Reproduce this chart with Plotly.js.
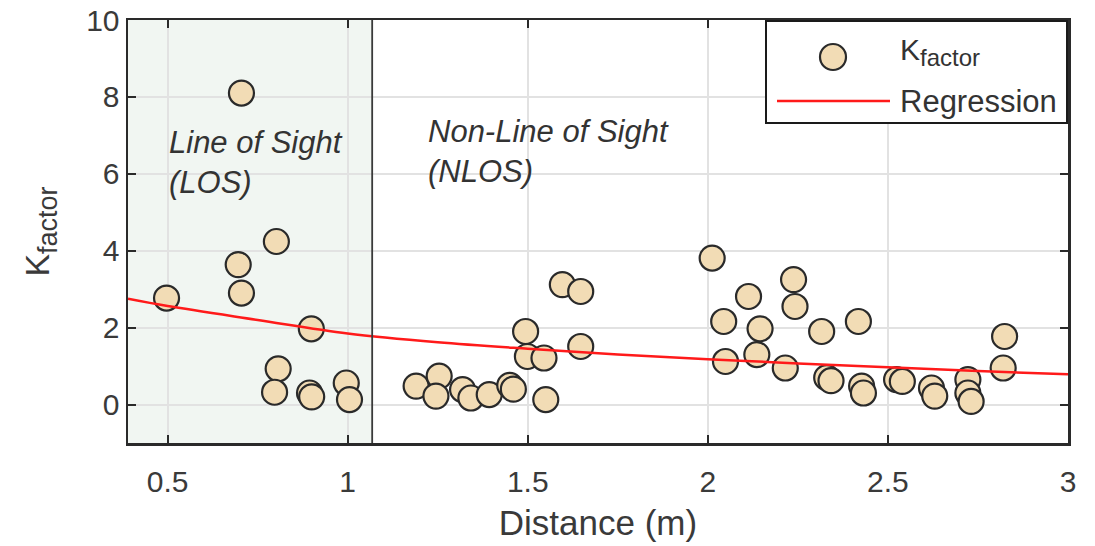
<!DOCTYPE html>
<html>
<head>
<meta charset="utf-8">
<script src="https://cdn.plot.ly/plotly-3.0.1.min.js"></script>
<style>html,body{margin:0;padding:0;background:#fff;}#chart{width:1095px;height:546px;}</style>
</head>
<body>
<div id="chart"></div>
<script>
// K-factor measurements (distance in m)
const distance = [0.497, 0.705, 0.696, 0.705, 0.802, 0.899, 0.807, 0.797, 0.894, 0.900, 0.996, 1.005,
  1.190, 1.254, 1.245, 1.319, 1.342, 1.393, 1.450, 1.460, 1.494, 1.499, 1.545, 1.550, 1.596, 1.647, 1.647,
  2.012, 2.113, 2.238, 2.242, 2.044, 2.145, 2.316, 2.418, 2.049, 2.136, 2.215, 2.330, 2.342, 2.427, 2.432,
  2.524, 2.540, 2.621, 2.630, 2.722, 2.722, 2.731, 2.820, 2.824];
const kfactor = [2.77, 8.10, 3.64, 2.90, 4.24, 1.97, 0.93, 0.32, 0.30, 0.20, 0.56, 0.13,
  0.48, 0.74, 0.22, 0.39, 0.17, 0.26, 0.50, 0.40, 1.90, 1.25, 1.21, 0.13, 3.12, 2.94, 1.51,
  3.81, 2.81, 3.25, 2.55, 2.16, 1.97, 1.90, 2.16, 1.12, 1.30, 0.95, 0.70, 0.62, 0.48, 0.30,
  0.65, 0.60, 0.43, 0.22, 0.65, 0.30, 0.08, 0.95, 1.77];
// Regression curve
const regX = [0.39, 0.5, 0.75, 1.0, 1.25, 1.5, 1.75, 2.0, 2.25, 2.5, 2.75, 3.0];
const regY = [2.75, 2.56, 2.2, 1.85, 1.62, 1.45, 1.3, 1.18, 1.07, 0.97, 0.87, 0.79];
const xTicks = [0.5, 1, 1.5, 2, 2.5, 3];
const yTicks = [0, 2, 4, 6, 8, 10];
const losLimit = 1.068;
const legendLabels = ['K<sub>factor</sub>', 'Regression'];

const font = 'Liberation Sans, Arial, Helvetica, sans-serif';
const txt = '#3a3a3a';
const markerFill = '#f2dcb5';
const markerEdge = '#2a2a2a';
const regColor = '#ff1a1a';

const traces = [
  {
    x: distance, y: kfactor, type: 'scatter', mode: 'markers', name: legendLabels[0],
    marker: {size: 25, color: markerFill, line: {color: markerEdge, width: 2.2}},
    cliponaxis: false
  },
  {
    x: regX, y: regY, type: 'scatter', mode: 'lines', name: legendLabels[1],
    line: {color: regColor, width: 2.5, shape: 'spline'}
  }
];

// legend box drawn in paper coordinates (plot area: 128..1068 x 20..443)
const W = 1095, H = 546, L = 128, R = 27, T = 20, B = 103;
const pw = W - L - R, ph = H - T - B;
const px = v => (v - L) / pw;
const py = v => (H - B - v) / ph;

const layout = {
  width: W, height: H,
  margin: {l: L, r: R, t: T, b: B},
  paper_bgcolor: '#ffffff', plot_bgcolor: '#ffffff',
  font: {family: font, color: txt, size: 29},
  showlegend: false,
  xaxis: {
    range: [0.39, 3], tickvals: xTicks, ticktext: xTicks.map(String),
    showgrid: true, gridcolor: '#e2e2e2', gridwidth: 2,
    zeroline: false, showline: true, linecolor: '#2a2a2a', linewidth: 2.5, mirror: 'allticks',
    ticks: 'inside', ticklen: 8, tickcolor: '#2a2a2a', tickwidth: 2,
    ticklabelstandoff: 10,
    tickfont: {family: font, size: 30, color: txt},
    title: {text: 'Distance (m)', font: {family: font, size: 35, color: txt}, standoff: 14}
  },
  yaxis: {
    range: [-1, 10], tickvals: yTicks, ticktext: yTicks.map(String),
    showgrid: true, gridcolor: '#e2e2e2', gridwidth: 2,
    zeroline: false, showline: true, linecolor: '#2a2a2a', linewidth: 2.5, mirror: 'allticks',
    ticks: 'inside', ticklen: 8, tickcolor: '#2a2a2a', tickwidth: 2,
    tickfont: {family: font, size: 30, color: txt},
    title: {text: 'K<sub><span style="font-size:27px">factor</span></sub>', font: {family: font, size: 34, color: txt}, standoff: 26}
  },
  shapes: [
    {type: 'rect', xref: 'x', yref: 'paper', x0: 0.39, x1: losLimit, y0: 0, y1: 1,
     fillcolor: '#f1f6f2', line: {width: 0}, layer: 'below'},
    {type: 'line', xref: 'x', yref: 'paper', x0: losLimit, x1: losLimit, y0: 0, y1: 1,
     line: {color: '#3a3a3a', width: 1.8}, layer: 'above'},
    // legend
    {type: 'rect', xref: 'paper', yref: 'paper', x0: px(766), x1: px(1067), y0: py(123), y1: py(21),
     fillcolor: '#ffffff', line: {color: '#1a1a1a', width: 2}, layer: 'above'},
    {type: 'circle', xref: 'paper', yref: 'paper', x0: px(820), x1: px(846), y0: py(70), y1: py(44),
     fillcolor: markerFill, line: {color: markerEdge, width: 2.2}, layer: 'above'},
    {type: 'line', xref: 'paper', yref: 'paper', x0: px(777), x1: px(890), y0: py(101), y1: py(101),
     line: {color: regColor, width: 2.5}, layer: 'above'}
  ],
  annotations: [
    {xref: 'x', yref: 'y', x: 0.497, y: 6.29, xanchor: 'left', yanchor: 'middle', align: 'left',
     text: '<i>Line of Sight<br>(LOS)</i>', showarrow: false,
     font: {family: font, size: 31, color: '#333'}},
    {xref: 'x', yref: 'y', x: 1.217, y: 6.57, xanchor: 'left', yanchor: 'middle', align: 'left',
     text: '<i>Non-Line of Sight<br>(NLOS)</i>', showarrow: false,
     font: {family: font, size: 31, color: '#333'}},
    {xref: 'paper', yref: 'paper', x: px(898), y: py(52), xanchor: 'left', yanchor: 'middle',
     text: 'K<sub><span style="font-size:24px">factor</span></sub>', showarrow: false,
     font: {family: font, size: 30, color: '#333'}},
    {xref: 'paper', yref: 'paper', x: px(898), y: py(102), xanchor: 'left', yanchor: 'middle',
     text: legendLabels[1], showarrow: false,
     font: {family: font, size: 31, color: '#333'}}
  ]
};

Plotly.newPlot('chart', traces, layout, {displayModeBar: false, staticPlot: true});
</script>
</body>
</html>
